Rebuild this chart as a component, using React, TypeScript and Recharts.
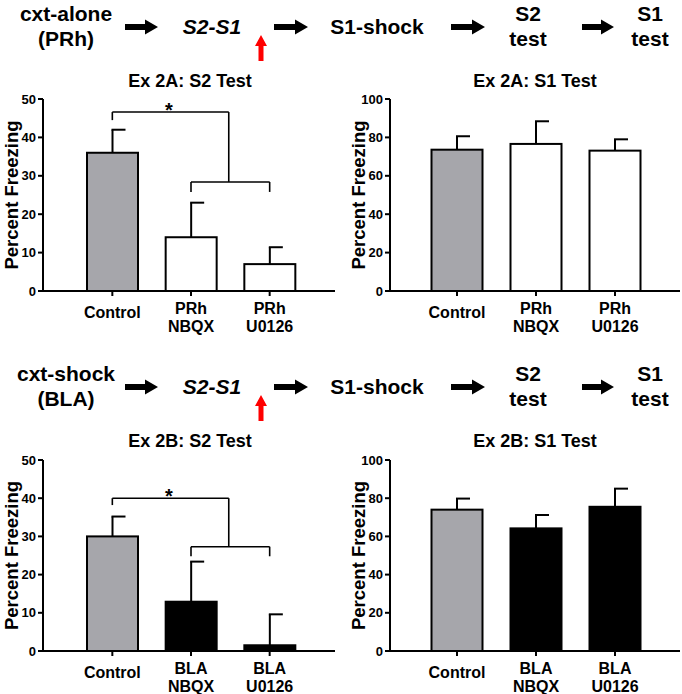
import React from "react"
import { BarChart, Bar, XAxis, YAxis, ReferenceLine, ReferenceDot } from "recharts"

const FONT = '"Liberation Sans", Arial, Helvetica, sans-serif'

const groupsPRh = ["Control", "PRh\nNBQX", "PRh\nU0126"]
const groupsBLA = ["Control", "BLA\nNBQX", "BLA\nU0126"]

// mean and SEM (percent freezing)
const prhS2Mean = [36, 14, 7]
const prhS2Sem = [6, 9, 4.4]
const prhS1Mean = [73.6, 76.6, 73.1]
const prhS1Sem = [7, 11.8, 5.9]
const blaS2Mean = [30, 12.9, 1.5]
const blaS2Sem = [5.2, 10.5, 8.1]
const blaS1Mean = [74, 64.2, 75.5]
const blaS1Sem = [5.8, 7, 9.5]

const fillsPRh = ["#a6a6ab", "#ffffff", "#ffffff"]
const fillsBLA = ["#a6a6ab", "#000000", "#000000"]

const ticks50 = [0, 10, 20, 30, 40, 50]
const ticks100 = [0, 20, 40, 60, 80, 100]

// significance bracket (x in group index, y in percent)
const bracketPRh = { top: 46.6, topDrop: 44.5, join: 1.48, low: 28.4, lowDrop: 25.8, starX: 0.72, starY: 47.1 }
const bracketBLA = { top: 40, topDrop: 38.2, join: 1.48, low: 27.3, lowDrop: 24.8, starX: 0.72, starY: 40.6 }

const stepsPRh = ["cxt-alone", "(PRh)"]
const stepsBLA = ["cxt-shock", "(BLA)"]

const GroupTick = (props: any) => {
  const { x, y, payload } = props
  const axisY = y - 5
  const lines = String(payload.value).split("\n")
  const first = lines.length === 1 ? axisY + 27 : axisY + 22.5
  return (
    <text x={x} textAnchor="middle" fontFamily={FONT} fontWeight={700} fontSize={16} fill="#000">
      {lines.map((l, i) => (
        <tspan key={i} x={x} y={first + i * 18}>
          {l}
        </tspan>
      ))}
    </text>
  )
}

const ErrorShape = (p: any) => {
  const cx = p.x + p.width / 2
  return (
    <g>
      <line x1={cx} x2={cx} y1={p.y} y2={p.y + p.height} stroke="#000" strokeWidth={2} />
      <line x1={cx - 1} x2={cx + 13} y1={p.y} y2={p.y} stroke="#000" strokeWidth={2} />
    </g>
  )
}

const BarShape = (p: any) => (
  <rect x={p.x} y={p.y} width={p.width} height={p.height} fill={p.payload.fill} stroke="#000" strokeWidth={2} />
)

const yLabel = (props: any) => {
  const vb = props.viewBox || { x: 0, y: 29, width: 43, height: 192 }
  const cx = vb.x + 11
  const cy = vb.y + vb.height / 2
  return (
    <text
      x={cx}
      y={cy}
      transform={`rotate(-90 ${cx} ${cy})`}
      textAnchor="middle"
      dominantBaseline="central"
      fontFamily={FONT}
      fontWeight={700}
      fontSize={18.5}
      fill="#000"
    >
      Percent Freezing
    </text>
  )
}

interface PanelProps {
  left: number
  top: number
  width: number
  height: number
  plotH: number
  rightM: number
  padL: number
  padR: number
  groups: string[]
  mean: number[]
  sem: number[]
  fills: string[]
  max: number
  ticks: number[]
  bracket?: typeof bracketPRh
}

function Panel(p: PanelProps) {
  const data = p.groups.map((g, i) => ({ group: g, pos: i, mean: p.mean[i], sem: p.sem[i], fill: p.fills[i] }))
  const b = p.bracket
  // half of one category band, so the numeric axis puts 0..2 on the band centres
  const half = (p.width - 43 - p.rightM - p.padL - p.padR) / p.groups.length / 2
  const seg = (x1: number, y1: number, x2: number, y2: number, k: string) => (
    <ReferenceLine
      key={k}
      xAxisId="n"
      segment={[{ x: x1, y: y1 }, { x: x2, y: y2 }]}
      stroke="#000"
      strokeWidth={1.6}
    />
  )
  return (
    <div style={{ position: "absolute", left: p.left, top: p.top }}>
      <BarChart
        width={p.width}
        height={p.height}
        data={data}
        margin={{ top: 29, right: p.rightM, left: 0, bottom: 0 }}
      >
        <XAxis
          dataKey="group"
          height={p.height - 29 - p.plotH}
          interval={0}
          tickSize={5}
          tickMargin={0}
          padding={{ left: p.padL, right: p.padR }}
          axisLine={{ stroke: "#000", strokeWidth: 2 }}
          tickLine={{ stroke: "#000", strokeWidth: 2 }}
          tick={<GroupTick />}
        />
        <XAxis
          xAxisId="n"
          dataKey="pos"
          type="number"
          domain={[0, p.groups.length - 1]}
          allowDataOverflow
          padding={{ left: p.padL + half, right: p.padR + half }}
          hide
        />
        <YAxis
          domain={[0, p.max]}
          ticks={p.ticks}
          interval={0}
          width={43}
          tickSize={5}
          tickMargin={2}
          axisLine={{ stroke: "#000", strokeWidth: 2 }}
          tickLine={{ stroke: "#000", strokeWidth: 2 }}
          tick={{ fontSize: 13, fontWeight: 700, fill: "#000", fontFamily: FONT }}
          label={yLabel}
        />
        <Bar dataKey="mean" stackId="s" barSize={51} isAnimationActive={false} shape={BarShape} />
        <Bar dataKey="sem" stackId="s" barSize={51} isAnimationActive={false} shape={ErrorShape} />
        {b && [
          seg(0, b.top, b.join, b.top, "a"),
          seg(0, b.top, 0, b.topDrop, "b"),
          seg(b.join, b.top, b.join, b.low, "c"),
          seg(1, b.low, 2, b.low, "d"),
          seg(1, b.low, 1, b.lowDrop, "e"),
          seg(2, b.low, 2, b.lowDrop, "f"),
        ]}
        {b && (
          <ReferenceDot
            xAxisId="n"
            x={b.starX}
            y={b.starY}
            r={0}
            fill="none"
            stroke="none"
            label={{ value: "*", position: "center", fontSize: 20, fontWeight: 700, fill: "#000", fontFamily: FONT }}
          />
        )}
      </BarChart>
    </div>
  )
}

const Arrow = ({ x1, x2, y }: { x1: number; x2: number; y: number }) => (
  <polygon
    points={`${x1},${y - 3} ${x2 - 13},${y - 3} ${x2 - 13},${y - 7.5} ${x2},${y} ${x2 - 13},${y + 7.5} ${x2 - 13},${y + 3} ${x1},${y + 3}`}
    fill="#000"
  />
)

const RedArrow = ({ x, y1, y2 }: { x: number; y1: number; y2: number }) => (
  <polygon
    points={`${x - 2.5},${y2} ${x - 2.5},${y1 + 11} ${x - 6},${y1 + 11} ${x},${y1} ${x + 6},${y1 + 11} ${x + 2.5},${y1 + 11} ${x + 2.5},${y2}`}
    fill="#ff0000"
  />
)

function Header({ dy, steps }: { dy: number; steps: string[] }) {
  const t = { fontFamily: FONT, fontWeight: 700, fontSize: 21, fill: "#000", textAnchor: "middle" as const }
  return (
    <g>
      <text x={66} y={dy + 21} {...t}>{steps[0]}</text>
      <text x={66} y={dy + 46} {...t}>{steps[1]}</text>
      <Arrow x1={125} x2={158} y={dy + 27} />
      <text x={212} y={dy + 34} {...t} fontStyle="italic">S2-S1</text>
      <RedArrow x={261} y1={dy + 35} y2={dy + 61} />
      <Arrow x1={274} x2={308} y={dy + 27} />
      <text x={377} y={dy + 34} {...t}>S1-shock</text>
      <Arrow x1={451} x2={485} y={dy + 27} />
      <text x={528} y={dy + 21} {...t}>S2</text>
      <text x={528} y={dy + 46} {...t}>test</text>
      <Arrow x1={582} x2={614} y={dy + 27} />
      <text x={650} y={dy + 21} {...t}>S1</text>
      <text x={650} y={dy + 46} {...t}>test</text>
    </g>
  )
}

export default function App() {
  const title = { fontFamily: FONT, fontWeight: 700, fontSize: 18, fill: "#000", textAnchor: "middle" as const }
  return (
    <div style={{ position: "absolute", left: 0, top: 0, width: 682, height: 694, overflow: "hidden", background: "#fff" }}>
      <Panel left={0} top={70} width={340} height={270} plotH={192} rightM={5} padL={30} padR={26}
        groups={groupsPRh} mean={prhS2Mean} sem={prhS2Sem} fills={fillsPRh} max={50} ticks={ticks50} bracket={bracketPRh} />
      <Panel left={347} top={70} width={335} height={270} plotH={192} rightM={2} padL={27.5} padR={25.5}
        groups={groupsPRh} mean={prhS1Mean} sem={prhS1Sem} fills={fillsPRh} max={100} ticks={ticks100} />
      <Panel left={0} top={431} width={340} height={263} plotH={191} rightM={5} padL={30} padR={26}
        groups={groupsBLA} mean={blaS2Mean} sem={blaS2Sem} fills={fillsBLA} max={50} ticks={ticks50} bracket={bracketBLA} />
      <Panel left={347} top={431} width={335} height={263} plotH={191} rightM={2} padL={27.5} padR={25.5}
        groups={groupsBLA} mean={blaS1Mean} sem={blaS1Sem} fills={fillsBLA} max={100} ticks={ticks100} />
      <svg width={682} height={694} style={{ position: "absolute", left: 0, top: 0, pointerEvents: "none" }}>
        <Header dy={0} steps={stepsPRh} />
        <Header dy={360} steps={stepsBLA} />
        <text x={190} y={87} {...title}>Ex 2A: S2 Test</text>
        <text x={535} y={87} {...title}>Ex 2A: S1 Test</text>
        <text x={190} y={447} {...title}>Ex 2B: S2 Test</text>
        <text x={535} y={447} {...title}>Ex 2B: S1 Test</text>
      </svg>
    </div>
  )
}
